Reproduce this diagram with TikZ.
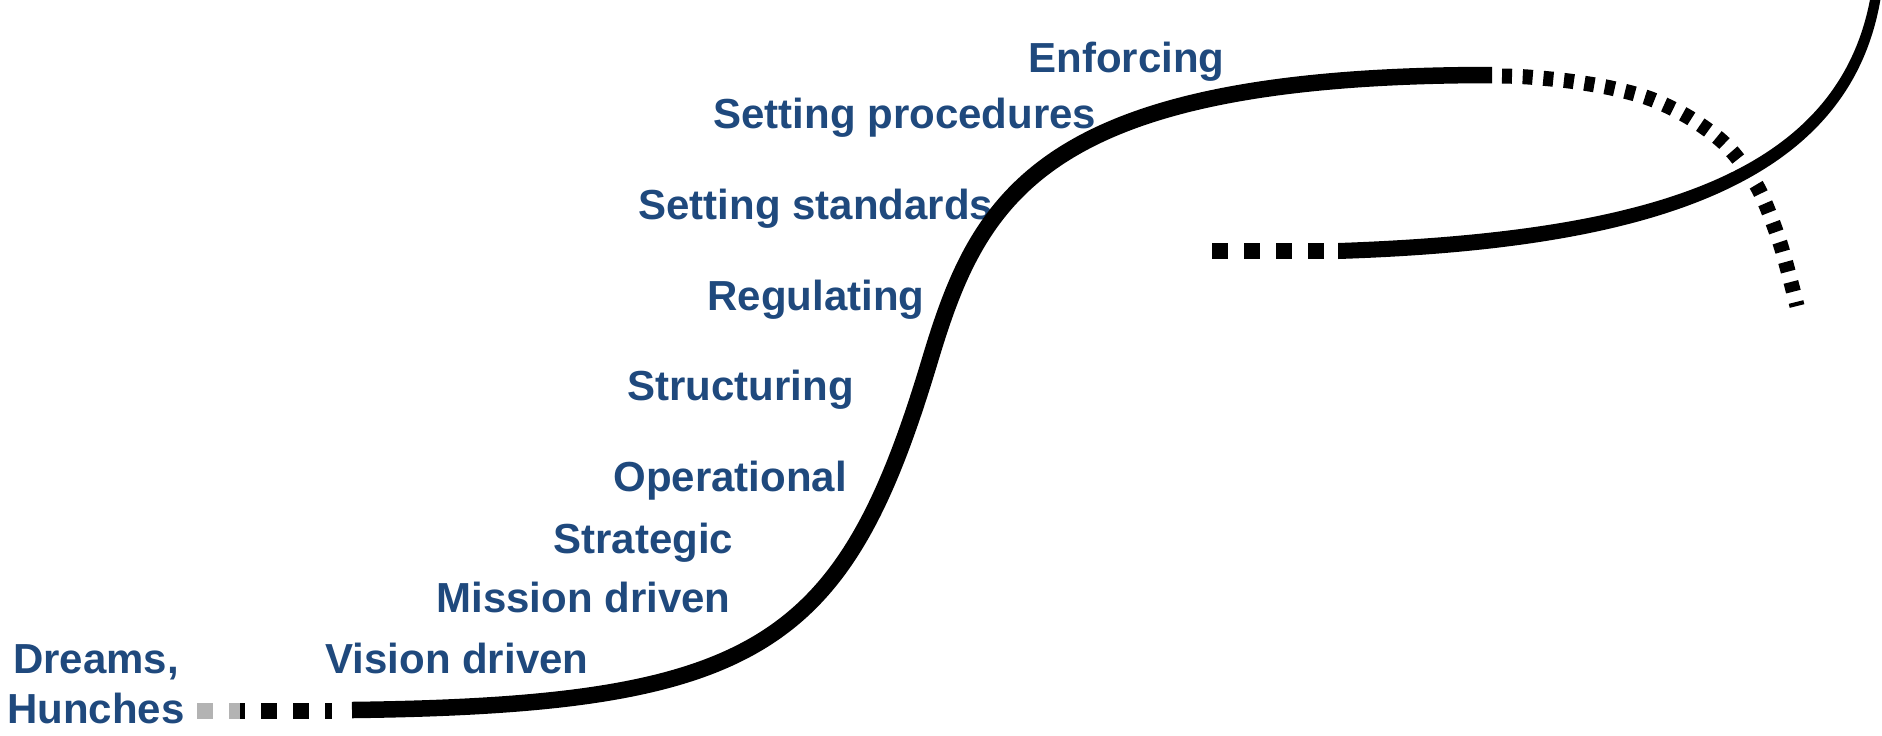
\documentclass[tikz,border=0pt]{standalone}
\usepackage{fontspec}
\setmainfont{Liberation Sans}
\usepackage{tikz}
\usetikzlibrary{calc}
\definecolor{stageblue}{RGB}{31,73,125}
\definecolor{fadegray}{RGB}{179,179,179}
\tikzset{
	stage/.style={anchor=base west, inner sep=0pt, text=stageblue, font=\bfseries\fontsize{21}{25}\selectfont},
	curve/.style={line width=8.25pt},
	dots/.style={line width=7.5pt, dash pattern=on 5pt off 5.35pt},
	squares/.style={line width=7.75pt, dash pattern=on 8pt off 8pt},
}

\begin{document}
\begin{tikzpicture}[x=0.5pt,y=-0.5pt]
	\useasboundingbox (0,0) rectangle (1882,735);
	% stages along the curve
	\node[stage] (enforcing) at (1028,72) {Enforcing};
	\node[stage] (procedures) at (713,128) {Setting procedures};
	\node[stage] (standards) at (638,219) {Setting standards};
	\node[stage] (regulating) at (707,310) {Regulating};
	\node[stage] (structuring) at (627,400) {Structuring};
	\node[stage] (operational) at (613,491) {Operational};
	\node[stage] (strategic) at (553,553) {Strategic};
	\node[stage] (mission) at (436,612) {Mission driven};
	\node[stage] (vision) at (325,673) {Vision driven};
	\node[stage, anchor=base, align=center] (dreams) at (96,723) {Dreams,\\Hunches};
	% first curve
	\coordinate (start) at (352,710);
	\coordinate (turn) at (930,360);
	\coordinate (top) at (1492,75);
	\draw[squares, fadegray] (197,711) -- (240,711);
	\draw[squares, dash phase=5.5pt] (240,711) -- (332,711);
	\draw[curve] (start) .. controls (760,705) and (844,647) .. (turn)
		.. controls (979,197) and (1040,75) .. (top);
	\draw[dots] plot[smooth] coordinates {(1502,76) (1528,77) (1569,81) (1611,88) (1651,99) (1690,118) (1727,146) (1758,188) (1780,243) (1797,306)};
	% second curve, thinning towards the top
	\draw[squares] (1212,251) -- (1330,251);
	\fill (1338,243) .. controls (1650,232) and (1840,175) .. (1871,-6)
		-- (1881,-4) .. controls (1851,185) and (1650,249) .. (1338,259) -- cycle;
\end{tikzpicture}
\end{document}
